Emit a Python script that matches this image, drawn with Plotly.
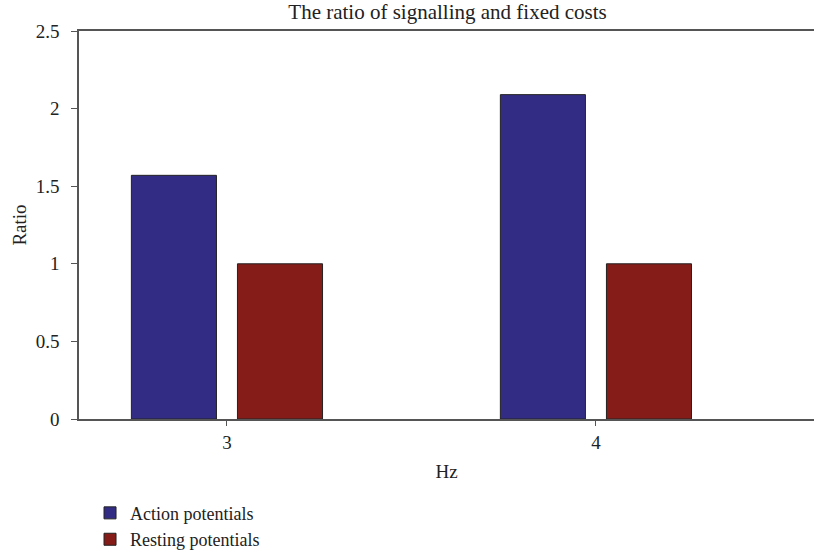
import plotly.graph_objects as go

categories = [3, 4]
action_potentials = [1.57, 2.09]
resting_potentials = [1.0, 1.0]
y_ticks = [0, 0.5, 1, 1.5, 2, 2.5]
y_tick_labels = ["0", "0.5", "1", "1.5", "2", "2.5"]

font = "Liberation Serif, Times New Roman, serif"
txt = "#222222"

fig = go.Figure()
fig.add_trace(go.Bar(x=categories, y=action_potentials, name="Action potentials",
                     marker=dict(color="#332C85", line=dict(color="#222222", width=1))))
fig.add_trace(go.Bar(x=categories, y=resting_potentials, name="Resting potentials",
                     marker=dict(color="#851C18", line=dict(color="#222222", width=1))))

fig.update_layout(
    width=814, height=558,
    margin=dict(l=79, r=0, t=31, b=136),
    paper_bgcolor="white", plot_bgcolor="white",
    font=dict(family=font, size=19, color=txt),
    barmode="group", bargap=0.425, bargroupgap=0.198,
    title=dict(text="The ratio of signalling and fixed costs", x=0.5498, xanchor="center",
               xref="container", yref="container",
               y=0.9785, yanchor="middle", font=dict(family=font, size=21, color=txt)),
    showlegend=True,
    legend=dict(x=0.015, xanchor="left", y=-0.195, yanchor="top",
                font=dict(family=font, size=18, color=txt),
                bgcolor="rgba(0,0,0,0)", tracegroupgap=0, itemwidth=30),
    xaxis=dict(range=[2.599, 4.591], tickvals=categories, ticktext=[str(c) for c in categories],
               showgrid=False, zeroline=False, showline=True, linecolor="#555555", linewidth=1.5,
               ticks="outside", ticklen=5, tickcolor="#555555", mirror=True,
               title=dict(text="Hz", standoff=13, font=dict(family=font, size=19, color=txt))),
    yaxis=dict(range=[0, 2.5], tickvals=y_ticks, ticktext=y_tick_labels,
               showgrid=False, zeroline=False, showline=True, linecolor="#555555", linewidth=1.5,
               ticks="outside", ticklen=6, tickcolor="#555555", ticklabelstandoff=8,
               title=dict(text="Ratio", standoff=4, font=dict(family=font, size=19, color=txt))),
)

# remove the default 8px page margin so the figure fills the window exactly
fig.write_html("out.html", config={"displayModeBar": False},
               post_script="document.body.style.margin='0';")
